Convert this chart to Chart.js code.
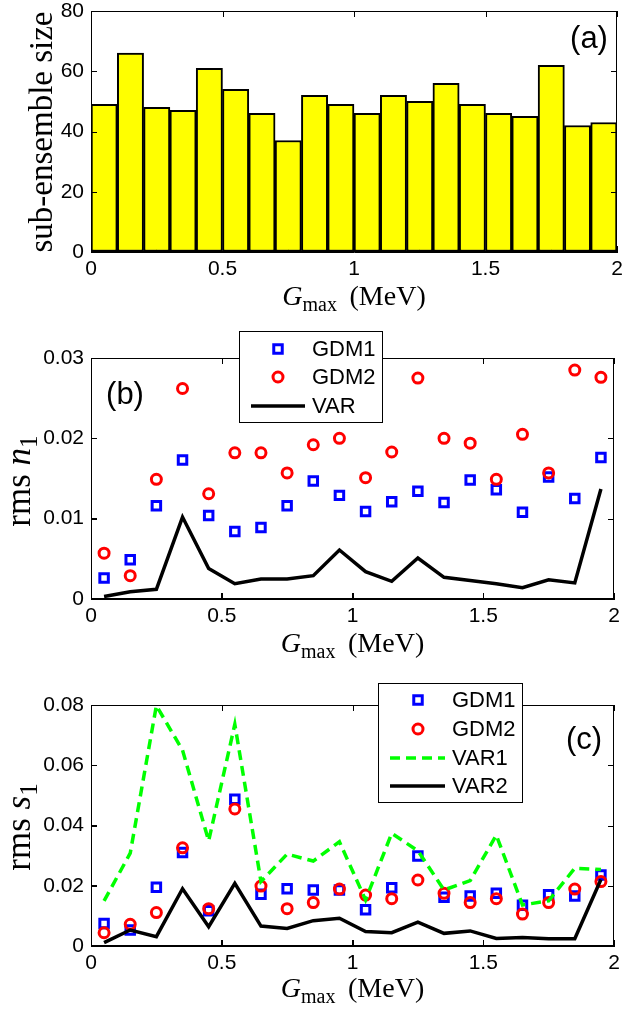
<!DOCTYPE html>
<html><head><meta charset="utf-8">
<script src="https://cdn.jsdelivr.net/npm/chart.js@4.4.1/dist/chart.umd.min.js"></script>
<style>
html,body{margin:0;padding:0;background:#fff;}
#wrap{position:relative;width:623px;height:1012px;overflow:hidden;}
canvas{position:absolute;left:0;}
.ln{position:absolute;background:#000;pointer-events:none;}
</style></head><body>
<div id="wrap">
<canvas id="ca" width="623" height="320" style="top:0px"></canvas>
<canvas id="cb" width="623" height="340" style="top:320px"></canvas>
<canvas id="cc" width="623" height="352" style="top:660px"></canvas>
</div>
<script>
// ---------------- data ----------------
const gmax = [0.05,0.15,0.25,0.35,0.45,0.55,0.65,0.75,0.85,0.95,1.05,1.15,1.25,1.35,1.45,1.55,1.65,1.75,1.85,1.95];
const xTicks = [0,0.5,1,1.5,2];
const sizeTicks = [0,20,40,60,80];
const n1Ticks = [0,0.01,0.02,0.03];
const s1Ticks = [0,0.02,0.04,0.06,0.08];

const subEnsembleSize = [49,66,48,47,61,54,46,37,52,49,46,52,50,56,49,46,45,62,42,43];

const n1GDM1 = [0.0026,0.0049,0.0116,0.0173,0.0104,0.0084,0.0089,0.0116,0.0147,0.0129,0.0109,0.0121,0.0134,0.0120,0.0148,0.0136,0.0108,0.0152,0.0125,0.0176];
const n1GDM2 = [0.0057,0.0029,0.0149,0.0262,0.0131,0.0182,0.0182,0.0157,0.0192,0.0200,0.0151,0.0183,0.0275,0.0200,0.0194,0.0149,0.0205,0.0157,0.0285,0.0276];
const n1VAR  = [0.0003,0.0009,0.0012,0.0102,0.0038,0.0019,0.0025,0.0025,0.0029,0.0061,0.0034,0.0022,0.0051,0.0027,0.0023,0.0019,0.0014,0.0024,0.0020,0.0137];

const s1GDM1 = [0.0075,0.0053,0.0195,0.0310,0.0117,0.0487,0.0172,0.0190,0.0186,0.0186,0.0120,0.0193,0.0299,0.0162,0.0166,0.0175,0.0135,0.0170,0.0166,0.0236];
const s1GDM2 = [0.0044,0.0072,0.0111,0.0326,0.0124,0.0455,0.0199,0.0124,0.0144,0.0189,0.0169,0.0157,0.0219,0.0175,0.0144,0.0157,0.0106,0.0144,0.0189,0.0214];
const s1VAR1 = [0.0150,0.0308,0.0798,0.0650,0.0349,0.0736,0.0214,0.0305,0.0282,0.0346,0.0153,0.0374,0.0316,0.0186,0.0217,0.0368,0.0136,0.0150,0.0258,0.0254];
const s1VAR2 = [0.0011,0.0053,0.0031,0.0190,0.0064,0.0208,0.0066,0.0058,0.0084,0.0092,0.0048,0.0044,0.0079,0.0042,0.0050,0.0025,0.0028,0.0024,0.0024,0.0221];

// ---------------- helpers ----------------
const TICK_FONT = {family: '"Liberation Sans", Arial, Helvetica, sans-serif', size: 21};
const SERIF = '"Liberation Serif", "Times New Roman", serif';
const pts = arr => arr.map((v,i)=>({x:gmax[i], y:v}));

function drawRich(ctx, segs, size, x, y, rotate){
  ctx.save();
  ctx.translate(x,y);
  if (rotate) ctx.rotate(-Math.PI/2);
  const fontFor = s => (s.it?'italic ':'') + (s.sub?Math.round(size*0.7):size) + 'px ' + SERIF;
  const widths = segs.map(s=>{ctx.font=fontFor(s); return ctx.measureText(s.t).width;});
  const total = widths.reduce((p,q)=>p+q,0);
  let cx = -total/2;
  ctx.fillStyle='#000'; ctx.textAlign='left'; ctx.textBaseline='alphabetic';
  segs.forEach((s,i)=>{ctx.font=fontFor(s); ctx.fillText(s.t, cx, s.sub?size*0.2:0); cx+=widths[i];});
  ctx.restore();
}

// titles, legend and panel tag
const decorPlugin = {
  id: 'decor',
  afterDraw(chart, args, o){
    try {
      const ctx = chart.ctx, a = chart.chartArea;
      drawRich(ctx, o.xTitle, o.xTitleSize, (a.left+a.right)/2, a.bottom+o.xTitleOffset, false);
      drawRich(ctx, o.yTitle, o.yTitleSize, o.yTitleX, o.yTitleY, true);
      ctx.save();
      if (o.legend){
        const L = o.legend, x0=L.box[0], y0=L.box[1], x1=L.box[2], y1=L.box[3];
        ctx.fillStyle='#fff'; ctx.fillRect(x0,y0,x1-x0,y1-y0);
        ctx.fillStyle='#000';
        ctx.fillRect(x0,y0,x1-x0,1); ctx.fillRect(x0,y1-1,x1-x0,1);
        ctx.fillRect(x0,y0,1,y1-y0); ctx.fillRect(x1-1,y0,1,y1-y0);
        chart.data.datasets.forEach((ds,i)=>{
          const y = L.rows[i];
          ctx.save();
          if (ds.showLine === false){
            ctx.strokeStyle = ds.pointBorderColor; ctx.lineWidth = ds.pointBorderWidth;
            ctx.beginPath();
            if (ds.pointStyle==='rect'){ const s = ds.pointRadius*Math.SQRT1_2; ctx.rect(L.markerX-s,y-s,2*s,2*s); }
            else ctx.arc(L.markerX,y,ds.pointRadius,0,Math.PI*2);
            ctx.stroke();
          } else {
            ctx.strokeStyle = ds.borderColor; ctx.lineWidth = ds.borderWidth;
            ctx.setLineDash(ds.borderDash||[]);
            ctx.beginPath(); ctx.moveTo(L.lineX0,y); ctx.lineTo(L.lineX1,y); ctx.stroke();
          }
          ctx.restore();
          ctx.fillStyle='#000'; ctx.font = L.fontSize+'px '+TICK_FONT.family;
          ctx.textAlign='left'; ctx.textBaseline='middle';
          ctx.fillText(ds.label, L.textX, y+1);
        });
      }
      ctx.fillStyle='#000'; ctx.font = o.tagSize+'px '+TICK_FONT.family;
      ctx.textAlign='center'; ctx.textBaseline='middle';
      ctx.fillText(o.tag, o.tagX, o.tagY);
      ctx.restore();
    } catch(e) { console.error(e); }
  }
};

const GRID = {display:true, drawOnChartArea:false, drawTicks:true, tickLength:-6, color:'#000', lineWidth:1};
const BORDER = {display:true, color:'#000', width:1};

function makeScales(xAxisHeight, yAxisWidth, yMin, yMax, yTickVals){
  const fmt = v => String(v);
  const setX = s => { s.ticks = xTicks.map(v=>({value:v})); };
  const setY = s => { s.ticks = yTickVals.map(v=>({value:v})); };
  return {
    x: {
      type:'linear', position:'bottom', min:0, max:2, offset:false,
      afterBuildTicks: setX,
      afterFit: s => { s.height = xAxisHeight; s.paddingLeft = 0; s.paddingRight = 0; },
      grid:GRID, border:BORDER,
      ticks:{color:'#000', font:TICK_FONT, padding:11, maxRotation:0, autoSkip:false, callback: fmt}
    },
    y: {
      type:'linear', position:'left', min:yMin, max:yMax,
      afterBuildTicks: setY,
      afterFit: s => { s.width = yAxisWidth; s.paddingTop = 0; s.paddingBottom = 0; },
      grid:GRID, border:BORDER,
      ticks:{color:'#000', font:TICK_FONT, padding:13, autoSkip:false, callback: fmt}
    }
  };
}

function makeOptions(padTop, xAxisHeight, yMin, yMax, yTickVals, decor){
  return {
    responsive:false, animation:false, devicePixelRatio:1, events:[],
    layout:{padding:{top:padTop, right:6, left:0, bottom:0}},
    scales: makeScales(xAxisHeight, 91, yMin, yMax, yTickVals),
    plugins:{legend:{display:false}, tooltip:{enabled:false}, decor: decor}
  };
}

// Box frame + inward ticks on all four sides, placed from the chart's own area and scales
const wrap = document.getElementById('wrap');
function seg(x, y, w, h){
  const d = document.createElement('div');
  d.className = 'ln';
  d.style.left = x+'px'; d.style.top = y+'px'; d.style.width = w+'px'; d.style.height = h+'px';
  wrap.appendChild(d);
}
function addFrame(chart, offsetTop, yTickVals, legendBox){
  const a = chart.chartArea;
  const L = Math.round(a.left), R = Math.round(a.right), T = Math.round(a.top) + offsetTop, B = Math.round(a.bottom) + offsetTop;
  const covered = x => legendBox && x >= legendBox[0] && x <= legendBox[2] && legendBox[1] + offsetTop <= T && legendBox[3] + offsetTop >= T;
  // top edge (interrupted by a legend box that sits over it)
  if (legendBox && covered((legendBox[0]+legendBox[2])/2)) {
    seg(L, T, legendBox[0]-L, 1);
    seg(legendBox[2], T, R-legendBox[2], 1);
  } else seg(L, T, R-L, 1);
  seg(L, B-1, R-L, 1);
  seg(L, T, 1, B-T);
  seg(R-1, T, 1, B-T);
  xTicks.forEach(v => {
    const px = Math.round(chart.scales.x.getPixelForValue(v));
    seg(px, B-6, 1, 6);
    if (!covered(px)) seg(px, T, 1, 6);
  });
  yTickVals.forEach(v => {
    const py = Math.round(chart.scales.y.getPixelForValue(v)) + offsetTop;
    seg(L, py, 6, 1);
    seg(R-6, py, 6, 1);
  });
}

const X_TITLE = [{t:'G', it:true},{t:'max', sub:true},{t:'\u2009 (MeV)'}];
const LEGEND_B = {box:[239,11,383,103], rows:[29,57,86], markerX:278, lineX0:251, lineX1:305, textX:312, fontSize:22};
const LEGEND_C = {box:[378,23,523,143], rows:[40,69,98,126], markerX:418, lineX0:390, lineX1:445, textX:452, fontSize:22};

// ---------------- panel (a) ----------------
const chartA = new Chart(document.getElementById('ca'), {
  type:'bar',
  data:{datasets:[{label:'sub-ensemble size', data: pts(subEnsembleSize),
    backgroundColor:'#ffff00', borderColor:'#000', borderWidth:2, borderSkipped:false,
    barPercentage:1, categoryPercentage:1}]},
  options: makeOptions(11, 68, 0, 80, sizeTicks, {
    xTitle:X_TITLE, xTitleSize:28, xTitleOffset:53,
    yTitle:[{t:'sub-ensemble size'}], yTitleSize:33, yTitleX:52, yTitleY:132,
    tag:'(a)', tagSize:31, tagX:589, tagY:39}),
  plugins:[decorPlugin]
});
addFrame(chartA, 0, sizeTicks, null);

// ---------------- panel (b) ----------------
const chartB = new Chart(document.getElementById('cb'), {
  type:'line',
  data:{datasets:[
    {label:'GDM1', data:pts(n1GDM1), showLine:false, pointStyle:'rect', pointRadius:6, pointBorderWidth:3,
      pointBorderColor:'#0000ff', pointBackgroundColor:'rgba(0,0,0,0)', borderColor:'#0000ff', order:2},
    {label:'GDM2', data:pts(n1GDM2), showLine:false, pointStyle:'circle', pointRadius:5, pointBorderWidth:3,
      pointBorderColor:'#ff0000', pointBackgroundColor:'rgba(0,0,0,0)', borderColor:'#ff0000', order:1},
    {label:'VAR', data:pts(n1VAR), borderColor:'#000', borderWidth:3.5, pointRadius:0, tension:0, fill:false, order:0}
  ]},
  options: makeOptions(38, 61, 0, 0.03, n1Ticks, {
    xTitle:X_TITLE, xTitleSize:28, xTitleOffset:53,
    yTitle:[{t:'rms '},{t:'n', it:true},{t:'1', sub:true}], yTitleSize:35, yTitleX:30, yTitleY:161,
    tag:'(b)', tagSize:31, tagX:125, tagY:75, legend:LEGEND_B}),
  plugins:[decorPlugin]
});
addFrame(chartB, 320, n1Ticks, LEGEND_B.box);

// ---------------- panel (c) ----------------
const chartC = new Chart(document.getElementById('cc'), {
  type:'line',
  data:{datasets:[
    {label:'GDM1', data:pts(s1GDM1), showLine:false, pointStyle:'rect', pointRadius:6, pointBorderWidth:3,
      pointBorderColor:'#0000ff', pointBackgroundColor:'rgba(0,0,0,0)', borderColor:'#0000ff', order:3},
    {label:'GDM2', data:pts(s1GDM2), showLine:false, pointStyle:'circle', pointRadius:5, pointBorderWidth:3,
      pointBorderColor:'#ff0000', pointBackgroundColor:'rgba(0,0,0,0)', borderColor:'#ff0000', order:2},
    {label:'VAR1', data:pts(s1VAR1), borderColor:'#00ff00', borderWidth:3.5, borderDash:[10,6], pointRadius:0, tension:0, fill:false, order:1},
    {label:'VAR2', data:pts(s1VAR2), borderColor:'#000', borderWidth:3.5, pointRadius:0, tension:0, fill:false, order:0}
  ]},
  options: makeOptions(45, 66, 0, 0.08, s1Ticks, {
    xTitle:X_TITLE, xTitleSize:28, xTitleOffset:51,
    yTitle:[{t:'rms '},{t:'s', it:true},{t:'1', sub:true}], yTitleSize:35, yTitleX:30, yTitleY:167,
    tag:'(c)', tagSize:31, tagX:584, tagY:80, legend:LEGEND_C}),
  plugins:[decorPlugin]
});
addFrame(chartC, 660, s1Ticks, LEGEND_C.box);
</script>
</body></html>
